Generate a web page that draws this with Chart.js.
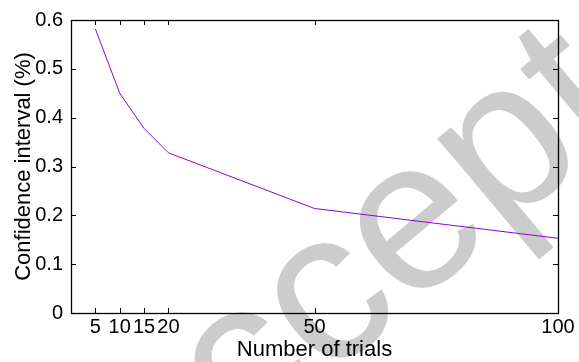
<!DOCTYPE html>
<html>
<head>
<meta charset="utf-8">
<script src="https://cdn.jsdelivr.net/npm/chart.js@4"></script>
<style>
  html, body { margin: 0; padding: 0; background: #fff; }
  #wrap { width: 579px; height: 362px; }
</style>
</head>
<body>
<div id="wrap"><canvas id="chart" width="579" height="362"></canvas></div>
<script>
// data
const trials = [5, 10, 15, 20, 50, 100];
const confidence = [0.582, 0.45, 0.378, 0.328, 0.214, 0.153];
const xTicks = [5, 10, 15, 20, 50, 100];
const yTicks = [0, 0.1, 0.2, 0.3, 0.4, 0.5, 0.6];
const watermarkText = 'Accepted';

const fontFamily = '"Liberation Sans", Arial, Helvetica, sans-serif';

// faint watermark behind the plot
const watermark = {
    id: 'watermark',
    beforeDraw(chart) {
        const ctx = chart.ctx;
        ctx.save();
        ctx.fillStyle = '#cccccc';
        ctx.font = '215px ' + fontFamily;
        ctx.translate(133, 542);
        ctx.rotate(-40 * Math.PI / 180);
        ctx.textAlign = 'left';
        ctx.textBaseline = 'alphabetic';
        ctx.fillText(watermarkText, 0, 0);
        ctx.restore();
    }
};

// gnuplot like frame with inward ticks on all four sides
const frame = {
    id: 'frame',
    afterDatasetsDraw(chart) {
        const ctx = chart.ctx;
        const a = chart.chartArea;
        const xs = chart.scales.x, ys = chart.scales.y;
        const len = 5;
        ctx.save();
        ctx.strokeStyle = '#000';
        ctx.lineWidth = 1;
        ctx.beginPath();
        xTicks.forEach(v => {
            const px = Math.round(xs.getPixelForValue(v)) + 0.5;
            ctx.moveTo(px, a.bottom); ctx.lineTo(px, a.bottom - len);
            ctx.moveTo(px, a.top); ctx.lineTo(px, a.top + len);
        });
        yTicks.forEach(v => {
            const py = Math.round(ys.getPixelForValue(v)) + 0.5;
            ctx.moveTo(a.left, py); ctx.lineTo(a.left + len, py);
            ctx.moveTo(a.right, py); ctx.lineTo(a.right - len, py);
        });
        ctx.stroke();
        ctx.lineWidth = 1.3;
        ctx.strokeRect(Math.round(a.left) + 0.5, Math.round(a.top) + 0.5,
            Math.round(a.right - a.left), Math.round(a.bottom - a.top));
        ctx.restore();
    }
};

new Chart(document.getElementById('chart'), {
    type: 'line',
    data: {
        datasets: [{
            data: trials.map((t, i) => ({ x: t, y: confidence[i] })),
            borderColor: '#9400d3',
            borderWidth: 1,
            pointRadius: 0,
            fill: false,
            tension: 0
        }]
    },
    options: {
        responsive: false,
        animation: false,
        layout: { padding: { top: 12, right: 21, left: 0, bottom: 0 } },
        plugins: { legend: { display: false }, tooltip: { enabled: false } },
        scales: {
            x: {
                type: 'linear',
                min: 0,
                max: 100,
                afterBuildTicks: s => { s.ticks = xTicks.map(v => ({ value: v })); },
                afterFit: s => { s.height = 49; },
                grid: { display: false, drawTicks: false },
                border: { display: false },
                ticks: {
                    autoSkip: false,
                    maxRotation: 0,
                    padding: 2,
                    color: '#000',
                    font: { family: fontFamily, size: 20 }
                },
                title: {
                    display: true,
                    text: 'Number of trials',
                    color: '#000',
                    padding: { top: 0, bottom: 0 },
                    font: { family: fontFamily, size: 22, lineHeight: 1.1 }
                }
            },
            y: {
                min: 0,
                max: 0.6,
                afterBuildTicks: s => { s.ticks = yTicks.map(v => ({ value: v })); },
                afterFit: s => { s.width = 71; },
                grid: { display: false, drawTicks: false },
                border: { display: false },
                ticks: {
                    padding: 8,
                    color: '#000',
                    font: { family: fontFamily, size: 20 },
                    callback: v => String(Math.round(v * 10) / 10)
                },
                title: {
                    display: true,
                    text: 'Confidence interval (%)',
                    color: '#000',
                    padding: { top: 12, bottom: 0 },
                    font: { family: fontFamily, size: 22, lineHeight: 1.1 }
                }
            }
        }
    },
    plugins: [watermark, frame]
});
</script>
</body>
</html>
